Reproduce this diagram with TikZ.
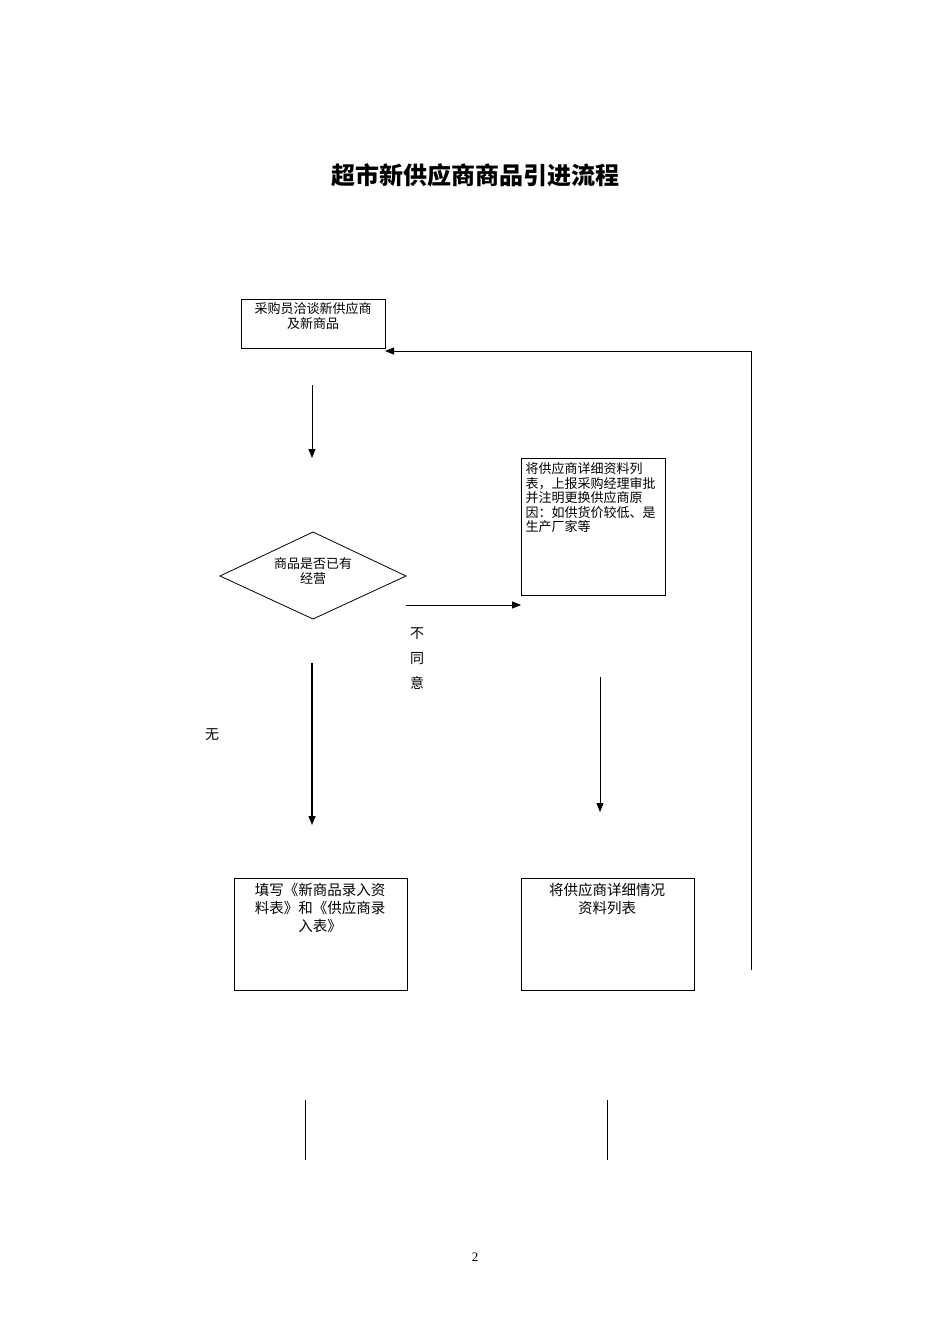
\documentclass[tikz,border=0pt]{standalone}
\usepackage{fontspec}
\setmainfont{Liberation Serif}
\newfontfamily\cjk{Noto Sans CJK SC}
\usetikzlibrary{shapes.geometric,arrows.meta}
\begin{document}
\begin{tikzpicture}[x=1pt,y=-1pt,
  box/.style={draw,line width=0.8pt,inner sep=0},
  txt/.style={font=\cjk\fontsize{13}{15}\selectfont,align=center},
  arr/.style={-{Triangle[length=9pt,width=7pt]},line width=0.8pt},
  ln/.style={line width=0.8pt}]
\useasboundingbox (0,0) rectangle (950,1344);
\node[font=\cjk\bfseries\fontsize{24}{28}\selectfont] (title) at (475,175) {超市新供应商商品引进流程};
% box1
\draw[box] (241,299) rectangle (385,348);
\node[txt,anchor=north] (t1) at (313,299) {采购员洽谈新供应商\\及新商品};
\coordinate (b1r) at (385,351);
\coordinate (a1s) at (312,385);
\coordinate (a1e) at (312,458);
\draw[arr] (a1s) -- (a1e);
% diamond
\draw[ln] (220,576) -- (313,532) -- (406,576) -- (313,619) -- cycle;
\node[txt] (d) at (313,571) {商品是否已有\\经营};
\coordinate (a2s) at (406,605);
\coordinate (a2e) at (521,605);
\draw[arr] (a2s) -- (a2e);
\node[txt,font=\cjk\fontsize{14}{25}\selectfont] (nt) at (417,659) {不\\同\\意};
% box2
\draw[box] (521,458) rectangle (665,595);
\node[txt,anchor=north west,align=left,font=\cjk\fontsize{13}{14.5}\selectfont] (t2) at (522,459) {将供应商详细资料列\\表，上报采购经理审批\\并注明更换供应商原\\因：如供货价较低、是\\生产厂家等};
\coordinate (a3s) at (600,677);
\coordinate (a3e) at (600,812);
\draw[arr] (a3s) -- (a3e);
\coordinate (a4s) at (312,663);
\coordinate (a4e) at (312,825);
\draw[arr,line width=1.4pt] (a4s) -- (a4e);
\node[txt,font=\cjk\fontsize{14}{16}\selectfont] (wu) at (212,735) {无};
% box3
\draw[box] (234,878) rectangle (407,990);
\node[txt,anchor=north,font=\cjk\fontsize{14.5}{18}\selectfont] (t3) at (320,880) {填写《新商品录入资\\料表》和《供应商录\\入表》};
% box4
\draw[box] (521,878) rectangle (694,990);
\node[txt,anchor=north,font=\cjk\fontsize{14.5}{18}\selectfont] (t4) at (607,880) {将供应商详细情况\\资料列表};
% feedback
\coordinate (f1) at (751,970);
\coordinate (f2) at (751,351);
\draw[ln] (f1) -- (f2);
\draw[arr] (f2) -- (b1r);
\coordinate (l1a) at (305,1100); \coordinate (l1b) at (305,1160);
\coordinate (l2a) at (607,1100); \coordinate (l2b) at (607,1160);
\draw[ln] (l1a) -- (l1b);
\draw[ln] (l2a) -- (l2b);
\node[font=\fontsize{13}{15}\selectfont] (pg) at (475,1257) {2};
\end{tikzpicture}
\end{document}
